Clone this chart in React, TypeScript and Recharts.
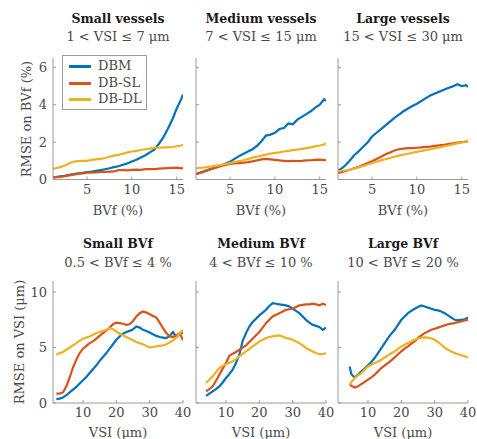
import { LineChart, Line, XAxis, YAxis } from 'recharts';

const SERIES = [
  { key: 'dbm', label: 'DBM', color: '#0072BD' },
  { key: 'dbsl', label: 'DB-SL', color: '#D95319' },
  { key: 'dbdl', label: 'DB-DL', color: '#EDB120' },
] as const;

// top row: error on BVf vs BVf (%)
const BVF_X = [1.2, 1.5, 2, 2.5, 3, 3.5, 4, 4.5, 5, 5.5, 6, 6.5, 7, 7.5, 8, 8.5, 9, 9.5, 10, 10.5, 11, 11.5, 12, 12.5, 13, 13.5, 14, 14.5, 15, 15.5, 15.7];
const BVF_TICKS = [5, 10, 15];
const BVF_Y_TICKS = [0, 2, 4, 6];

const SMALL_VESSELS_DBM = [0.12, 0.13, 0.17, 0.2, 0.25, 0.29, 0.33, 0.36, 0.4, 0.42, 0.46, 0.5, 0.55, 0.6, 0.66, 0.71, 0.79, 0.86, 0.96, 1.06, 1.18, 1.3, 1.45, 1.6, 1.9, 2.25, 2.7, 3.2, 3.8, 4.3, 4.55];
const SMALL_VESSELS_DBSL = [0.1, 0.12, 0.14, 0.18, 0.22, 0.26, 0.3, 0.33, 0.36, 0.37, 0.38, 0.4, 0.41, 0.42, 0.43, 0.5, 0.5, 0.49, 0.51, 0.53, 0.52, 0.55, 0.56, 0.55, 0.58, 0.6, 0.61, 0.62, 0.63, 0.6, 0.62];
const SMALL_VESSELS_DBDL = [0.56, 0.6, 0.66, 0.75, 0.86, 0.96, 0.98, 1.0, 1.0, 1.05, 1.08, 1.1, 1.15, 1.22, 1.28, 1.32, 1.38, 1.45, 1.5, 1.53, 1.58, 1.62, 1.65, 1.7, 1.7, 1.72, 1.72, 1.74, 1.78, 1.82, 1.85];

const MEDIUM_VESSELS_DBM = [0.3, 0.35, 0.42, 0.5, 0.58, 0.66, 0.75, 0.85, 0.95, 1.1, 1.25, 1.38, 1.5, 1.62, 1.8, 2.05, 2.35, 2.4, 2.5, 2.7, 2.75, 3.0, 2.95, 3.2, 3.35, 3.5, 3.65, 3.85, 4.0, 4.3, 4.2];
const MEDIUM_VESSELS_DBSL = [0.28, 0.32, 0.4, 0.5, 0.58, 0.65, 0.72, 0.78, 0.83, 0.86, 0.88, 0.9, 0.93, 0.97, 1.02, 1.08, 1.1, 1.08, 1.05, 1.02, 1.0, 0.98, 1.0, 0.99, 1.0, 1.02, 1.03, 1.05, 1.06, 1.04, 1.05];
const MEDIUM_VESSELS_DBDL = [0.6, 0.62, 0.64, 0.67, 0.7, 0.74, 0.78, 0.83, 0.88, 0.93, 0.98, 1.03, 1.1, 1.17, 1.22, 1.28, 1.33, 1.38, 1.42, 1.45, 1.5, 1.53, 1.57, 1.6, 1.64, 1.68, 1.72, 1.77, 1.82, 1.88, 1.92];

const LARGE_VESSELS_DBM = [0.5, 0.55, 0.75, 1.0, 1.3, 1.5, 1.75, 1.98, 2.3, 2.5, 2.7, 2.9, 3.1, 3.3, 3.47, 3.65, 3.8, 3.93, 4.05, 4.2, 4.35, 4.5, 4.6, 4.7, 4.8, 4.9, 4.98, 5.1, 5.0, 5.05, 4.95];
const LARGE_VESSELS_DBSL = [0.35, 0.38, 0.45, 0.52, 0.6, 0.68, 0.78, 0.88, 0.98, 1.1, 1.22, 1.35, 1.45, 1.55, 1.62, 1.65, 1.68, 1.68, 1.7, 1.72, 1.75, 1.76, 1.8, 1.83, 1.86, 1.9, 1.93, 1.97, 2.0, 2.03, 2.05];
const LARGE_VESSELS_DBDL = [0.45, 0.46, 0.48, 0.52, 0.58, 0.65, 0.72, 0.8, 0.88, 0.95, 1.02, 1.08, 1.15, 1.22, 1.28, 1.33, 1.38, 1.43, 1.48, 1.53, 1.57, 1.62, 1.67, 1.72, 1.77, 1.82, 1.88, 1.93, 1.98, 2.05, 2.1];

// bottom row: error on VSI vs VSI (um)
const VSI_X_SMALL = [2, 3, 4, 5, 6, 7, 8, 9, 10, 11, 12, 13, 14, 15, 16, 17, 18, 19, 20, 21, 22, 23, 24, 25, 26, 27, 28, 29, 30, 31, 32, 33, 34, 35, 36, 37, 38, 39, 40];
const VSI_X_MEDIUM = [4, 5, 6, 7, 8, 9, 10, 11, 12, 13, 14, 15, 16, 17, 18, 19, 20, 21, 22, 23, 24, 25, 26, 27, 28, 29, 30, 31, 32, 33, 34, 35, 36, 37, 38, 39, 40];
const VSI_X_LARGE = [4.5, 5, 6, 7, 8, 9, 10, 11, 12, 13, 14, 15, 16, 17, 18, 19, 20, 21, 22, 23, 24, 25, 26, 27, 28, 29, 30, 31, 32, 33, 34, 35, 36, 37, 38, 39, 40];
const VSI_TICKS = [10, 20, 30, 40];
const VSI_Y_TICKS = [0, 5, 10];

const SMALL_BVF_DBM = [0.35, 0.4, 0.5, 0.7, 0.95, 1.2, 1.45, 1.75, 2.05, 2.35, 2.7, 3.05, 3.4, 3.8, 4.15, 4.5, 4.9, 5.3, 5.7, 6.0, 6.25, 6.4, 6.5, 6.65, 6.9, 6.8, 6.6, 6.5, 6.35, 6.2, 6.05, 5.95, 5.9, 5.85, 6.05, 6.4, 5.95, 6.2, 6.35];
const SMALL_BVF_DBSL = [0.85, 0.85, 0.95, 1.5, 2.3, 3.2, 3.9, 4.5, 4.9, 5.15, 5.4, 5.55, 5.8, 6.05, 6.3, 6.55, 6.8, 7.1, 7.25, 7.2, 7.15, 7.05, 7.1, 7.4, 7.8, 8.1, 8.25, 8.15, 8.0, 7.85, 7.7, 7.25, 6.75, 6.3, 6.0, 5.95, 6.1, 6.3, 5.65];
const SMALL_BVF_DBDL = [4.35, 4.5, 4.6, 4.8, 5.0, 5.2, 5.4, 5.6, 5.8, 5.9, 6.0, 6.15, 6.3, 6.4, 6.5, 6.6, 6.75, 6.65, 6.45, 6.25, 6.1, 5.95, 5.8, 5.65, 5.5, 5.4, 5.3, 5.15, 5.0, 5.05, 5.1, 5.15, 5.2, 5.3, 5.45, 5.65, 5.9, 6.25, 6.6];

const MEDIUM_BVF_DBM = [0.65, 0.85, 1.05, 1.25, 1.5, 1.85, 2.25, 2.6, 3.0, 3.6, 4.35, 5.6, 6.3, 6.9, 7.3, 7.6, 7.9, 8.15, 8.4, 8.75, 9.0, 8.95, 8.9, 8.85, 8.8, 8.7, 8.5, 8.3, 8.1, 7.8, 7.5, 7.25, 7.05, 6.95, 6.85, 6.6, 6.8];
const MEDIUM_BVF_DBSL = [1.05, 1.25, 1.5, 2.0, 2.55, 3.1, 3.6, 4.25, 4.45, 4.6, 4.8, 5.0, 5.2, 5.5, 5.8, 6.1, 6.4, 6.8, 7.2, 7.5, 7.8, 7.95, 8.1, 8.25, 8.4, 8.45, 8.5, 8.65, 8.8, 8.85, 8.9, 8.9, 8.95, 8.9, 8.8, 8.95, 8.85];
const MEDIUM_BVF_DBDL = [1.8, 2.1, 2.4, 2.8, 3.15, 3.35, 3.5, 3.62, 3.75, 3.95, 4.2, 4.42, 4.65, 4.88, 5.1, 5.32, 5.55, 5.7, 5.85, 5.95, 6.0, 6.05, 6.1, 6.0, 5.85, 5.8, 5.7, 5.55, 5.4, 5.2, 4.95, 4.8, 4.65, 4.5, 4.4, 4.4, 4.5];

const LARGE_BVF_DBM = [3.3, 2.6, 2.3, 2.55, 2.85, 3.1, 3.4, 3.7, 4.05, 4.5, 4.95, 5.4, 5.85, 6.25, 6.6, 7.05, 7.5, 7.8, 8.1, 8.3, 8.5, 8.65, 8.8, 8.7, 8.6, 8.5, 8.4, 8.35, 8.25, 8.1, 7.9, 7.7, 7.5, 7.45, 7.5, 7.55, 7.7];
const LARGE_BVF_DBSL = [1.7, 1.55, 1.4, 1.5, 1.7, 1.9, 2.1, 2.3, 2.55, 2.85, 3.15, 3.4, 3.6, 3.85, 4.1, 4.4, 4.65, 4.9, 5.1, 5.35, 5.55, 5.85, 6.1, 6.3, 6.45, 6.6, 6.7, 6.8, 6.9, 7.0, 7.1, 7.15, 7.2, 7.3, 7.35, 7.45, 7.5];
const LARGE_BVF_DBDL = [1.65, 1.9, 2.25, 2.5, 2.7, 3.0, 3.3, 3.45, 3.6, 3.75, 3.9, 4.1, 4.3, 4.48, 4.65, 4.88, 5.1, 5.25, 5.4, 5.55, 5.7, 5.8, 5.9, 5.92, 5.9, 5.82, 5.7, 5.5, 5.25, 5.0, 4.8, 4.65, 4.5, 4.4, 4.3, 4.2, 4.1];

const FONT = "'DejaVu Serif', serif";
const AXIS_COLOR = '#9a9a9a';
const TEXT_COLOR = '#4a4a4a';
const PLOT_W = 130;
const Y_AXIS_W = 40;
const X_AXIS_H = 30;
const PAD = 5;
const RIGHT = 12;
const PANEL_LEFT = [53, 196, 338];

type PanelProps = {
  left: number;
  top: number;
  height: number;
  x: number[];
  dbm: number[];
  dbsl: number[];
  dbdl: number[];
  xDomain: [number, number];
  yDomain: [number, number];
  xTicks: number[];
  yTicks: number[];
  showYLabels: boolean;
};

function Panel({ left, top, height, x, dbm, dbsl, dbdl, xDomain, yDomain, xTicks, yTicks, showYLabels }: PanelProps) {
  const data = x.map((v, i) => ({ x: v, dbm: dbm[i], dbsl: dbsl[i], dbdl: dbdl[i] }));
  const tick = { fontSize: 13, fill: TEXT_COLOR, fontFamily: FONT };
  return (
    <div style={{ position: 'absolute', left: left - Y_AXIS_W, top: top - PAD }}>
      <LineChart
        width={Y_AXIS_W + PLOT_W + RIGHT}
        height={PAD + height + X_AXIS_H}
        data={data}
        margin={{ top: PAD, right: RIGHT, bottom: 0, left: 0 }}
      >
        <XAxis
          type="number"
          dataKey="x"
          domain={xDomain}
          ticks={xTicks}
          allowDataOverflow
          height={X_AXIS_H}
          tickSize={-3}
          tickMargin={8}
          axisLine={{ stroke: AXIS_COLOR }}
          tickLine={{ stroke: AXIS_COLOR }}
          tick={tick}
        />
        <YAxis
          type="number"
          domain={yDomain}
          ticks={yTicks}
          allowDataOverflow
          width={Y_AXIS_W}
          tickSize={-3}
          tickMargin={9}
          axisLine={{ stroke: AXIS_COLOR }}
          tickLine={{ stroke: AXIS_COLOR }}
          tick={tick}
          tickFormatter={(v) => (showYLabels ? String(v) : '')}
        />
        {SERIES.map((s) => (
          <Line
            key={s.key}
            type="linear"
            dataKey={s.key}
            stroke={s.color}
            strokeWidth={2.2}
            dot={false}
            isAnimationActive={false}
          />
        ))}
      </LineChart>
    </div>
  );
}

function Text({ x, y, children, bold, rotate }: { x: number; y: number; children: React.ReactNode; bold?: boolean; rotate?: boolean }) {
  return (
    <div
      style={{
        position: 'absolute',
        left: x,
        top: y,
        transform: `translate(-50%, -50%)${rotate ? ' rotate(-90deg)' : ''}`,
        whiteSpace: 'nowrap',
        fontSize: bold ? 12.5 : 13,
        fontWeight: bold ? 700 : 400,
        color: bold ? '#1a1a1a' : TEXT_COLOR,
        lineHeight: 1,
      }}
    >
      {children}
    </div>
  );
}

const TOP_TITLES = ['Small vessels', 'Medium vessels', 'Large vessels'];
const TOP_SUBTITLES = ['1 < VSI ≤ 7 μm', '7 < VSI ≤ 15 μm', '15 < VSI ≤ 30 μm'];
const BOTTOM_TITLES = ['Small BVf', 'Medium BVf', 'Large BVf'];
const BOTTOM_SUBTITLES = ['0.5 < BVf ≤ 4 %', '4 < BVf ≤ 10 %', '10 < BVf ≤ 20 %'];

export default function App() {
  const top = [
    [SMALL_VESSELS_DBM, SMALL_VESSELS_DBSL, SMALL_VESSELS_DBDL],
    [MEDIUM_VESSELS_DBM, MEDIUM_VESSELS_DBSL, MEDIUM_VESSELS_DBDL],
    [LARGE_VESSELS_DBM, LARGE_VESSELS_DBSL, LARGE_VESSELS_DBDL],
  ];
  const bottom = [
    [VSI_X_SMALL, SMALL_BVF_DBM, SMALL_BVF_DBSL, SMALL_BVF_DBDL],
    [VSI_X_MEDIUM, MEDIUM_BVF_DBM, MEDIUM_BVF_DBSL, MEDIUM_BVF_DBDL],
    [VSI_X_LARGE, LARGE_BVF_DBM, LARGE_BVF_DBSL, LARGE_BVF_DBDL],
  ];
  return (
    <div
      style={{
        position: 'absolute',
        left: 0,
        top: 0,
        width: 477,
        height: 439,
        background: '#fff',
        fontFamily: FONT,
        overflow: 'hidden',
      }}
    >
      {top.map(([dbm, dbsl, dbdl], i) => (
        <Panel
          key={`t${i}`}
          left={PANEL_LEFT[i]}
          top={57.5}
          height={121.5}
          x={BVF_X}
          dbm={dbm}
          dbsl={dbsl}
          dbdl={dbdl}
          xDomain={[1.2, 15.7]}
          yDomain={[0, 6.5]}
          xTicks={BVF_TICKS}
          yTicks={BVF_Y_TICKS}
          showYLabels={i === 0}
        />
      ))}
      {bottom.map(([x, dbm, dbsl, dbdl], i) => (
        <Panel
          key={`b${i}`}
          left={PANEL_LEFT[i]}
          top={281}
          height={122}
          x={x}
          dbm={dbm}
          dbsl={dbsl}
          dbdl={dbdl}
          xDomain={[1, 40]}
          yDomain={[0, 11]}
          xTicks={VSI_TICKS}
          yTicks={VSI_Y_TICKS}
          showYLabels={i === 0}
        />
      ))}

      {TOP_TITLES.map((t, i) => (
        <Text key={t} x={PANEL_LEFT[i] + PLOT_W / 2} y={19} bold>{t}</Text>
      ))}
      {TOP_SUBTITLES.map((t, i) => (
        <Text key={t} x={PANEL_LEFT[i] + PLOT_W / 2} y={36}>{t}</Text>
      ))}
      {BOTTOM_TITLES.map((t, i) => (
        <Text key={t} x={PANEL_LEFT[i] + PLOT_W / 2} y={244} bold>{t}</Text>
      ))}
      {BOTTOM_SUBTITLES.map((t, i) => (
        <Text key={t} x={PANEL_LEFT[i] + PLOT_W / 2} y={262}>{t}</Text>
      ))}
      {PANEL_LEFT.map((l) => (
        <Text key={`xb${l}`} x={l + PLOT_W / 2} y={210}>BVf (%)</Text>
      ))}
      {PANEL_LEFT.map((l) => (
        <Text key={`xv${l}`} x={l + PLOT_W / 2} y={432}>VSI (μm)</Text>
      ))}
      <Text x={26} y={119} rotate>RMSE on BVf (%)</Text>
      <Text x={19} y={342} rotate>RMSE on VSI (μm)</Text>

      <div
        style={{
          position: 'absolute',
          left: 62,
          top: 55,
          width: 85,
          height: 55,
          boxSizing: 'border-box',
          border: `1px solid ${AXIS_COLOR}`,
          background: '#fff',
        }}
      >
        {SERIES.map((s, i) => (
          <div key={s.key} style={{ position: 'absolute', left: 0, top: 10 + i * 16.5 - 8, height: 16, width: '100%' }}>
            <div style={{ position: 'absolute', left: 6, top: 7, width: 22, height: 3, background: s.color }} />
            <div style={{ position: 'absolute', left: 35, top: 0, fontSize: 13, lineHeight: '16px', color: TEXT_COLOR }}>{s.label}</div>
          </div>
        ))}
      </div>
    </div>
  );
}
